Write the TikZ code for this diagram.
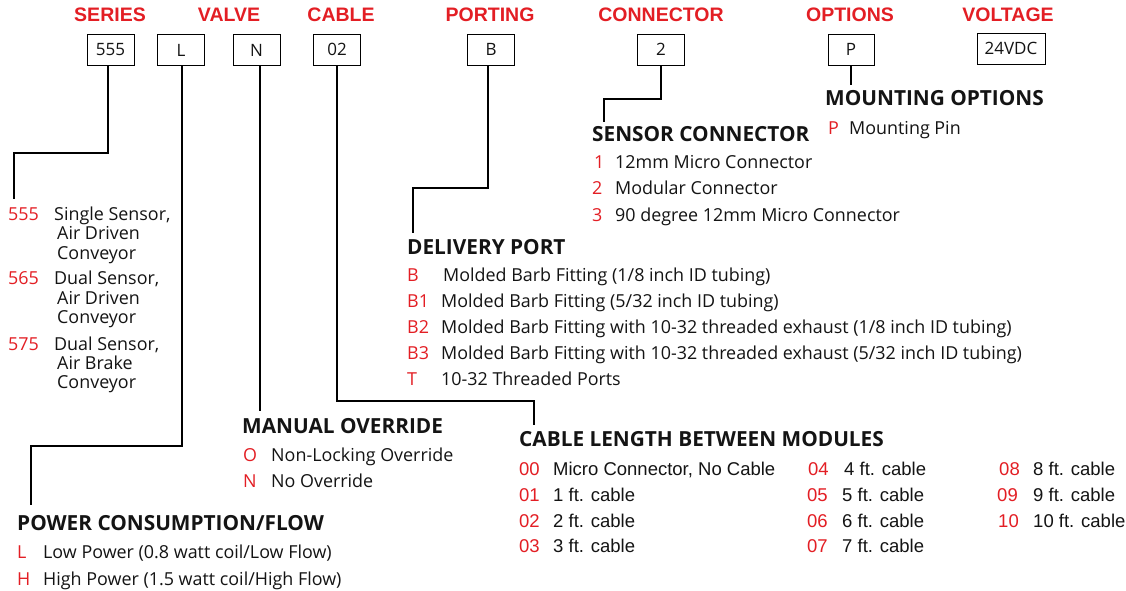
\documentclass[tikz,border=0pt]{standalone}
\usepackage{fontspec}
\setmainfont{Open Sans}
\newfontfamily\hfont{Liberation Sans}
\newfontfamily\cfont{Liberation Sans}
\definecolor{pr}{RGB}{227,30,36}
\definecolor{ink}{RGB}{20,20,20}
\begin{document}
\begin{tikzpicture}[x=1pt,y=-1pt,
  rhead/.style={font=\hfont\bfseries\fontsize{19.5}{19.5}\selectfont, text=pr, anchor=base, inner sep=0},
  codebox/.style={draw, line width=0.9pt, minimum width=47pt, minimum height=31pt, inner sep=0, font=\fontsize{17}{17}\selectfont, text=ink},
  conn/.style={line width=2.4pt},
  bhead/.style={font=\bfseries\fontsize{20.8}{20.8}\selectfont, anchor=base west, inner sep=0, text=ink},
  key/.style={text=pr, font=\fontsize{17.9}{17.9}\selectfont, anchor=base west, inner sep=0},
  txt/.style={text=ink, font=\fontsize{17.9}{17.9}\selectfont, anchor=base west, inner sep=0},
  ckey/.style={text=pr, font=\cfont\fontsize{18.5}{18.5}\selectfont, anchor=base west, inner sep=0},
  ctxt/.style={text=ink, font=\cfont\fontsize{18.5}{18.5}\selectfont, anchor=base west, inner sep=0}
]
\fill[white] (0,0) rectangle (1126,591);
\useasboundingbox (0,0) rectangle (1126,591);
% red headings
\node[rhead] (hSer) at (110,22) {SERIES};
\node[rhead] (hVal) at (229,22) {VALVE};
\node[rhead] (hCab) at (341,22) {CABLE};
\node[rhead] (hPor) at (490,22) {PORTING};
\node[rhead] (hCon) at (661,22) {CONNECTOR};
\node[rhead] (hOpt) at (850,22) {OPTIONS};
\node[rhead] (hVol) at (1008,22) {VOLTAGE};
% code boxes
\node[codebox] (b555) at (110.5,49.5) {555};
\node[codebox] (bL) at (181,50) {L};
\node[codebox] (bN) at (256.5,50) {N};
\node[codebox] (b02) at (337,49.5) {02};
\node[codebox] (bB) at (491,49.5) {B};
\node[codebox] (b2) at (661,49.5) {2};
\node[codebox, minimum width=46pt] (bP) at (851,49.5) {P};
\node[codebox, minimum width=68pt] (bV) at (1011,48.5) {24VDC};
% connector coordinates
\coordinate (a1) at (108,153); \coordinate (k1) at (14,153); \coordinate (e1) at (14,199);
\coordinate (a2) at (182,446); \coordinate (k2) at (31,446); \coordinate (e2) at (31,505);
\coordinate (e3) at (260,411);
\coordinate (a4) at (337,401); \coordinate (k4) at (534,401); \coordinate (e4) at (534,425);
\coordinate (a5) at (488,188); \coordinate (k5) at (413,188); \coordinate (e5) at (413,233);
\coordinate (a6) at (661,99); \coordinate (k6) at (604,99); \coordinate (e6) at (604,122);
\coordinate (e7) at (851,85);
\draw[conn] (b555.south -| a1) -- (a1) -- (k1) -- (e1);
\draw[conn] (bL.south -| a2) -- (a2) -- (k2) -- (e2);
\draw[conn] (bN.south -| e3) -- (e3);
\draw[conn] (b02.south -| a4) -- (a4) -- (k4) -- (e4);
\draw[conn] (bB.south -| a5) -- (a5) -- (k5) -- (e5);
\draw[conn] (b2.south -| a6) -- (a6) -- (k6) -- (e6);
\draw[conn] (bP.south -| e7) -- (e7);
% series list
\node[key] (s1k) at (8,220) {555};
\node[txt] (s1a) at (54,220) {Single Sensor,};
\node[txt] (s1b) at (57,239.5) {Air Driven};
\node[txt] (s1c) at (57,259) {Conveyor};
\node[key] (s2k) at (8,284.5) {565};
\node[txt] (s2a) at (54,284.5) {Dual Sensor,};
\node[txt] (s2b) at (57,304) {Air Driven};
\node[txt] (s2c) at (57,323) {Conveyor};
\node[key] (s3k) at (8,350) {575};
\node[txt] (s3a) at (54,350) {Dual Sensor,};
\node[txt] (s3b) at (57,369) {Air Brake};
\node[txt] (s3c) at (57,388) {Conveyor};
% mounting options
\node[bhead] (hMo) at (825,106) {MOUNTING OPTIONS};
\node[key] (m1k) at (828,135) {P};
\node[txt] (m1t) at (849,135) {Mounting Pin};
% sensor connector
\node[bhead] (hSc) at (592,142) {SENSOR CONNECTOR};
\node[key] (c1k) at (594,168) {1};
\node[txt] (c1t) at (615,168) {12mm Micro Connector};
\node[key] (c2k) at (592,194.5) {2};
\node[txt] (c2t) at (615,194.5) {Modular Connector};
\node[key] (c3k) at (592,221) {3};
\node[txt] (c3t) at (615,221) {90 degree 12mm Micro Connector};
% delivery port
\node[bhead] (hDp) at (407,254) {DELIVERY PORT};
\node[key] (d1k) at (407,281) {B};
\node[txt] (d1t) at (443,281) {Molded Barb Fitting (1/8 inch ID tubing)};
\node[key] (d2k) at (407,307) {B1};
\node[txt] (d2t) at (441,307) {Molded Barb Fitting (5/32 inch ID tubing)};
\node[key] (d3k) at (407,333) {B2};
\node[txt] (d3t) at (441,333) {Molded Barb Fitting with 10-32 threaded exhaust (1/8 inch ID tubing)};
\node[key] (d4k) at (407,359) {B3};
\node[txt] (d4t) at (441,359) {Molded Barb Fitting with 10-32 threaded exhaust (5/32 inch ID tubing)};
\node[key] (d5k) at (407,385) {T};
\node[txt] (d5t) at (441,385) {10-32 Threaded Ports};
% manual override
\node[bhead] (hMa) at (242,433) {MANUAL OVERRIDE};
\node[key] (o1k) at (243,461) {O};
\node[txt] (o1t) at (271,461) {Non-Locking Override};
\node[key] (o2k) at (243,487) {N};
\node[txt] (o2t) at (271,487) {No Override};
% power consumption
\node[bhead] (hPw) at (17,530) {POWER CONSUMPTION/FLOW};
\node[key] (p1k) at (17,558) {L};
\node[txt] (p1t) at (43,558) {Low Power (0.8 watt coil/Low Flow)};
\node[key] (p2k) at (17,585) {H};
\node[txt] (p2t) at (43,585) {High Power (1.5 watt coil/High Flow)};
% cable length
\node[bhead] (hCl) at (519,446) {CABLE LENGTH BETWEEN MODULES};
\node[ckey] (l00) at (519,475) {00};
\node[ctxt] (t00) at (553,475) {Micro Connector, No Cable};
\node[ckey] (l01) at (519,501) {01};
\node[ctxt] (t01) at (553,501) {1 ft. cable};
\node[ckey] (l02) at (519,527) {02};
\node[ctxt] (t02) at (553,527) {2 ft. cable};
\node[ckey] (l03) at (519,552) {03};
\node[ctxt] (t03) at (553,552) {3 ft. cable};
\node[ckey] (l04) at (808,475) {04};
\node[ctxt] (t04) at (844,475) {4 ft. cable};
\node[ckey] (l05) at (807,501) {05};
\node[ctxt] (t05) at (842,501) {5 ft. cable};
\node[ckey] (l06) at (807,527) {06};
\node[ctxt] (t06) at (842,527) {6 ft. cable};
\node[ckey] (l07) at (807,552) {07};
\node[ctxt] (t07) at (842,552) {7 ft. cable};
\node[ckey] (l08) at (999,475) {08};
\node[ctxt] (t08) at (1033,475) {8 ft. cable};
\node[ckey] (l09) at (997,501) {09};
\node[ctxt] (t09) at (1033,501) {9 ft. cable};
\node[ckey] (l10) at (998,527) {10};
\node[ctxt] (t10) at (1033,527) {10 ft. cable};
\end{tikzpicture}
\end{document}
